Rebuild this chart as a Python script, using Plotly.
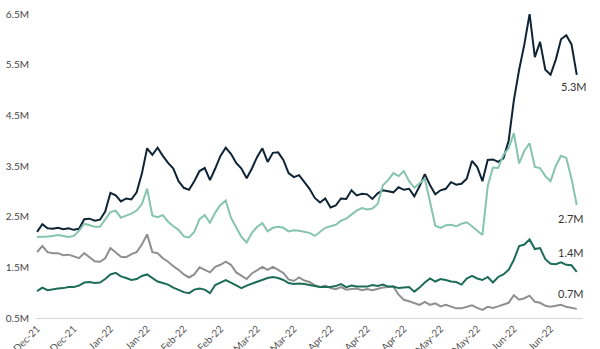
import datetime as dt
import plotly.graph_objects as go

# Two-day observation grid, 10 Dec 2021 onward
start = dt.date(2021, 12, 10)
n_points = 104
dates = [start + dt.timedelta(days=2 * i) for i in range(n_points)]

navy_vals = [
    2.20, 2.35, 2.27, 2.26, 2.28, 2.25, 2.27, 2.24, 2.26, 2.45,
    2.46, 2.42, 2.44, 2.60, 2.97, 2.92, 2.80, 2.86, 2.84, 2.98,
    3.35, 3.85, 3.72, 3.86, 3.70, 3.56, 3.45, 3.20, 3.07, 3.03,
    3.20, 3.40, 3.46, 3.22, 3.45, 3.70, 3.86, 3.74, 3.56, 3.45,
    3.26, 3.45, 3.68, 3.85, 3.58, 3.76, 3.77, 3.62, 3.36, 3.28,
    3.32, 3.18, 3.05, 2.87, 2.78, 2.86, 2.68, 2.72, 2.86, 2.85,
    3.02, 2.92, 2.95, 2.94, 2.85, 2.96, 3.02, 3.00, 2.98, 3.08,
    3.03, 3.05, 2.90, 3.10, 3.34, 3.12, 2.94, 3.02, 3.05, 3.18,
    3.13, 3.15, 3.25, 3.60, 3.48, 3.20, 3.62, 3.63, 3.58, 3.65,
    4.00, 4.80, 5.40, 5.90, 6.50, 5.65, 5.95, 5.40, 5.30, 5.60,
    6.00, 6.08, 5.90, 5.30,
]

teal_vals = [
    2.10, 2.10, 2.11, 2.12, 2.14, 2.12, 2.10, 2.12, 2.22, 2.36,
    2.33, 2.30, 2.30, 2.44, 2.59, 2.62, 2.48, 2.52, 2.56, 2.62,
    2.75, 3.05, 2.52, 2.49, 2.53, 2.40, 2.31, 2.24, 2.11, 2.09,
    2.20, 2.45, 2.53, 2.38, 2.58, 2.73, 2.82, 2.48, 2.28, 2.10,
    1.99, 2.18, 2.30, 2.37, 2.21, 2.28, 2.30, 2.28, 2.21, 2.23,
    2.22, 2.20, 2.18, 2.12, 2.20, 2.28, 2.31, 2.34, 2.42, 2.46,
    2.54, 2.62, 2.67, 2.64, 2.66, 2.75, 3.12, 3.22, 3.36, 3.30,
    3.40, 3.20, 3.07, 3.17, 3.25, 2.79, 2.32, 2.28, 2.33, 2.34,
    2.31, 2.36, 2.39, 2.31, 2.22, 2.14, 3.10, 3.47, 3.46, 3.72,
    3.85, 4.15, 3.55, 3.80, 3.95, 3.48, 3.46, 3.30, 3.20, 3.50,
    3.70, 3.66, 3.25, 2.73,
]

gray_vals = [
    1.80, 1.92, 1.80, 1.78, 1.78, 1.74, 1.75, 1.72, 1.68, 1.78,
    1.70, 1.62, 1.61, 1.68, 1.88, 1.80, 1.71, 1.70, 1.76, 1.80,
    1.95, 2.15, 1.80, 1.78, 1.68, 1.61, 1.52, 1.45, 1.36, 1.30,
    1.36, 1.50, 1.45, 1.40, 1.51, 1.55, 1.61, 1.55, 1.40, 1.33,
    1.27, 1.38, 1.45, 1.51, 1.45, 1.51, 1.45, 1.39, 1.26, 1.23,
    1.30, 1.24, 1.21, 1.15, 1.11, 1.14, 1.09, 1.07, 1.11, 1.06,
    1.07, 1.08, 1.05, 1.07, 1.05, 1.08, 1.10, 1.11, 1.12, 0.96,
    0.86, 0.83, 0.80, 0.76, 0.82, 0.76, 0.79, 0.73, 0.76, 0.73,
    0.69, 0.69, 0.72, 0.75, 0.70, 0.66, 0.72, 0.70, 0.73, 0.76,
    0.80, 0.95, 0.86, 0.89, 0.94, 0.82, 0.80, 0.74, 0.72, 0.74,
    0.76, 0.72, 0.70, 0.68,
]

green_vals = [
    1.03, 1.10, 1.05, 1.07, 1.08, 1.09, 1.11, 1.11, 1.14, 1.20,
    1.21, 1.19, 1.20, 1.27, 1.36, 1.39, 1.32, 1.29, 1.25, 1.27,
    1.33, 1.36, 1.29, 1.22, 1.19, 1.16, 1.10, 1.05, 1.01, 0.99,
    1.06, 1.08, 1.06, 0.99, 1.15, 1.20, 1.25, 1.20, 1.14, 1.09,
    1.14, 1.18, 1.21, 1.25, 1.29, 1.31, 1.29, 1.25, 1.19, 1.17,
    1.18, 1.17, 1.15, 1.12, 1.11, 1.11, 1.11, 1.13, 1.17, 1.11,
    1.14, 1.12, 1.12, 1.12, 1.15, 1.13, 1.16, 1.12, 1.12, 1.09,
    1.10, 1.11, 1.02, 1.10, 1.20, 1.28, 1.22, 1.27, 1.25, 1.22,
    1.21, 1.16, 1.28, 1.33, 1.28, 1.25, 1.31, 1.20, 1.31, 1.36,
    1.45, 1.65, 1.92, 1.95, 2.05, 1.86, 1.88, 1.66, 1.57, 1.56,
    1.60, 1.55, 1.54, 1.41,
]

# Fortnightly ticks
tick_dates = [start + dt.timedelta(days=14 * k) for k in range(15)]
tick_text = [d.strftime("%b-%y") for d in tick_dates]

y_ticks = [0.5, 1.5, 2.5, 3.5, 4.5, 5.5, 6.5]
y_tick_text = [f"{v}M" for v in y_ticks]

series = [
    (navy_vals, "#0e2435", -3, -12),
    (teal_vals, "#86c4ad", -6, -13),
    (gray_vals, "#8f8f8f", -6, 15),
    (green_vals, "#1d6c58", -6, 19),
]

fig = go.Figure()
annotations = []
for vals, color, xs, ys in series:
    fig.add_trace(go.Scatter(
        x=dates, y=vals, mode="lines",
        line=dict(color=color, width=2),
        hoverinfo="skip",
    ))
    annotations.append(dict(
        x=dates[-1], y=vals[-1], xref="x", yref="y",
        text=f"{vals[-1]:.1f}M", showarrow=False,
        xanchor="center", yanchor="middle",
        xshift=xs, yshift=ys,
        font=dict(family="Lato, sans-serif", size=11, color="#333333"),
    ))

x0 = dt.datetime(2021, 12, 9, 14)
x1 = x0 + dt.timedelta(days=208.8)

fig.update_layout(
    width=600, height=349,
    margin=dict(l=36, r=17, t=14, b=31),
    paper_bgcolor="white", plot_bgcolor="white",
    showlegend=False,
    annotations=annotations,
    font=dict(family="Lato, sans-serif", size=10, color="#555555"),
    xaxis=dict(
        type="date", range=[x0, x1],
        tickvals=tick_dates, ticktext=tick_text, tickangle=-45,
        showgrid=False, zeroline=False,
        showline=True, linecolor="#d6d6d6", linewidth=1,
        ticks="", automargin=False,
        tickfont=dict(size=10, color="#555555"),
    ),
    yaxis=dict(
        range=[0.5, 6.5], tickvals=y_ticks, ticktext=y_tick_text,
        showgrid=False, zeroline=False, showline=False,
        ticks="", ticklabelstandoff=6, automargin=False,
        tickfont=dict(size=10, color="#444444"),
    ),
)

fig.write_html("out.html")
